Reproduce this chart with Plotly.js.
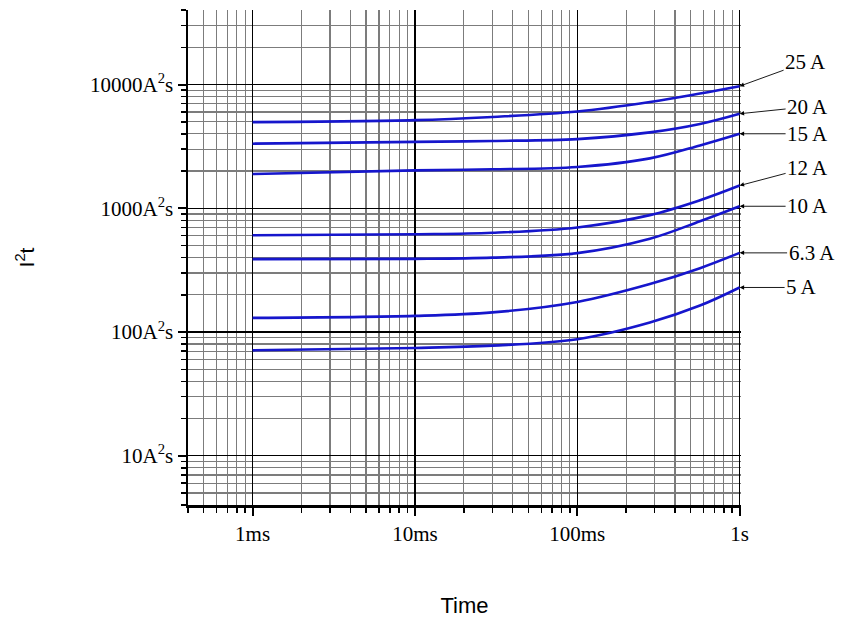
<!DOCTYPE html>
<html>
<head>
<meta charset="utf-8">
<script src="https://cdn.plot.ly/plotly-3.0.1.min.js"></script>
<style>html,body{margin:0;padding:0;background:#fff;}#chart{width:841px;height:619px;}</style>
</head>
<body>
<div id="chart"></div>
<script>
// Time points (s)
var times = [0.001, 0.01, 0.03, 0.1, 0.28, 0.57, 1];
// I2t values (A^2 s) per fuse rating
var labels = ['25 A', '20 A', '15 A', '12 A', '10 A', '6.3 A', '5 A'];
var i25 = [4966, 5150, 5470, 6055, 7230, 8460, 9690];
var i20 = [3325, 3436, 3500, 3622, 4102, 4800, 5806];
var i15 = [1892, 2024, 2064, 2155, 2530, 3220, 4000];
var i12 = [605, 617, 634, 700, 880, 1160, 1525];
var i10 = [388, 390, 399, 434, 567, 785, 1038];
var i63 = [130, 135, 144, 175, 244, 328, 436];
var i5 = [71.1, 74.3, 77.6, 87.4, 119.4, 163.6, 229];
var series = [i25, i20, i15, i12, i10, i63, i5];

var xTickVals = [0.001, 0.01, 0.1, 1];
var xTickText = ['1ms', '10ms', '100ms', '1s'];
var yTickVals = [10, 100, 1000, 10000];
var yTickText = ['10A<sup>2</sup>s', '100A<sup>2</sup>s', '1000A<sup>2</sup>s', '10000A<sup>2</sup>s'];

// label text offsets (px) relative to curve end
var labelDx = [66, 68, 68, 68, 68, 72, 62];
var labelDy = [-24, -7, 0, -18, 0, 0, 0];

function minorVals(lo, hi) {
  var out = [];
  for (var d = lo; d < hi; d++) {
    for (var m = 2; m <= 9; m++) out.push(m * Math.pow(10, d));
  }
  return out;
}

var traces = series.map(function (s, i) {
  return {
    x: times, y: s, type: 'scatter', mode: 'lines', name: labels[i],
    line: {color: '#1616cc', width: 2.6, shape: 'spline', smoothing: 1},
    hoverinfo: 'x+y+name'
  };
});

var annotations = series.map(function (s, i) {
  return {
    x: Math.log10(times[times.length - 1]),
    y: Math.log10(s[s.length - 1]),
    xref: 'x', yref: 'y',
    text: labels[i],
    showarrow: true, arrowhead: 2, arrowsize: 1, arrowwidth: 0.9, arrowcolor: '#000',
    ax: labelDx[i], ay: labelDy[i],
    font: {family: 'Liberation Serif, serif', size: 21, color: '#000'}
  };
});

var serif = {family: 'Liberation Serif, serif', size: 21, color: '#000'};

var layout = {
  width: 841, height: 619,
  margin: {l: 188, r: 100, t: 10, b: 114},
  paper_bgcolor: '#fff', plot_bgcolor: '#fff',
  showlegend: false,
  xaxis: {
    type: 'log', range: [Math.log10(0.0004), Math.log10(1.02)],
    tickmode: 'array', tickvals: xTickVals, ticktext: xTickText,
    ticks: 'outside', ticklen: 8, tickwidth: 2, tickcolor: '#000',
    showline: true, linecolor: '#000', linewidth: 2.5,
    showgrid: true, gridcolor: '#000', gridwidth: 1.3, zeroline: false,
    tickfont: serif,
    minor: {tickmode: 'array', tickvals: minorVals(-4, 0), ticks: 'outside', ticklen: 5, tickwidth: 1.5, tickcolor: '#000',
            showgrid: true, gridcolor: '#7c7c7c', gridwidth: 1.2},
    title: {text: 'Time', font: {family: 'Liberation Sans, Arial, sans-serif', size: 22, color: '#000'}, standoff: 53},
    automargin: false
  },
  yaxis: {
    type: 'log', range: [Math.log10(4), Math.log10(40000)],
    tickmode: 'array', tickvals: yTickVals, ticktext: yTickText,
    ticks: 'outside', ticklen: 8, tickwidth: 2, tickcolor: '#000',
    showline: true, linecolor: '#000', linewidth: 2.5,
    showgrid: true, gridcolor: '#000', gridwidth: 1.3, zeroline: false,
    tickfont: serif,
    minor: {tickmode: 'array', tickvals: minorVals(0, 5), ticks: 'outside', ticklen: 5, tickwidth: 1.5, tickcolor: '#000',
            showgrid: true, gridcolor: '#7c7c7c', gridwidth: 1.2},
    title: {text: 'I<sup>2</sup>t', font: {family: 'Liberation Sans, Arial, sans-serif', size: 21, color: '#000'}, standoff: 50},
    automargin: false
  },
  annotations: annotations
};

Plotly.newPlot('chart', traces, layout, {displayModeBar: false, staticPlot: true});
</script>
</body>
</html>
